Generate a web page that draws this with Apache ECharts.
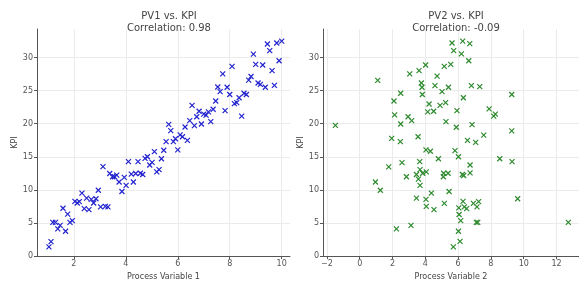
<!DOCTYPE html>
<html><head><meta charset="utf-8">
<script src="https://cdn.jsdelivr.net/npm/echarts@6/dist/echarts.min.js"></script>
<style>html,body{margin:0;padding:0;background:#fff}#c{width:579px;height:286px}</style>
</head><body><div id="c"></div>
<script>
const titles = ["PV1 vs. KPI\nCorrelation: 0.98", "PV2 vs. KPI\nCorrelation: -0.09"];
const xNames = ["Process Variable 1", "Process Variable 2"];
const yName = "KPI";

const pv1 = [1.04,1.12,1.19,1.29,1.38,1.47,1.58,1.68,1.76,1.85,1.94,2.04,2.13,2.21,2.31,2.40,2.49,2.58,2.67,2.76,2.85,2.94,3.03,3.12,3.21,3.31,3.38,3.49,3.56,3.65,3.74,3.85,3.94,4.01,4.10,4.21,4.29,4.38,4.47,4.56,4.65,4.74,4.83,4.92,5.01,5.10,5.19,5.28,5.37,5.46,5.55,5.65,5.73,5.83,5.91,6.00,6.09,6.18,6.28,6.37,6.46,6.55,6.64,6.73,6.82,6.91,7.00,7.09,7.18,7.27,7.36,7.46,7.54,7.63,7.73,7.82,7.90,8.00,8.09,8.18,8.27,8.36,8.46,8.55,8.64,8.73,8.82,8.91,9.00,9.09,9.18,9.27,9.37,9.45,9.54,9.63,9.72,9.81,9.90,10.00];
const kpi1 = [1.39,2.18,5.10,5.10,4.11,4.65,7.23,3.76,6.34,5.10,5.35,8.27,8.02,8.22,9.50,7.18,8.76,7.03,8.56,8.02,8.66,9.95,7.43,13.51,7.52,7.43,12.48,11.98,11.98,12.23,11.19,9.75,11.88,10.69,14.26,12.38,11.19,12.48,14.26,12.52,12.33,14.75,15.00,13.76,14.16,15.79,12.72,13.07,14.70,15.99,17.28,19.90,18.96,17.28,17.72,16.04,18.32,18.02,19.50,17.48,20.45,22.77,19.70,21.04,21.88,19.95,21.44,21.29,21.78,20.30,22.18,23.42,25.54,24.85,27.52,21.98,25.50,24.41,28.66,23.02,23.17,23.91,21.14,24.60,24.41,26.58,27.13,30.50,28.96,26.14,25.94,28.86,25.50,32.03,31.04,28.02,25.79,32.18,29.50,32.48];

const pv2 = [-1.48,0.96,1.10,1.26,1.77,1.95,2.09,2.13,2.24,2.50,2.50,2.48,2.58,2.85,2.95,3.05,3.13,3.17,3.46,3.46,3.56,3.58,3.62,3.66,3.68,3.68,3.76,3.80,3.82,3.84,4.02,4.04,4.06,4.04,4.06,4.15,4.23,4.31,4.37,4.51,4.53,4.59,4.72,4.80,4.90,5.02,5.10,5.12,5.16,5.16,5.24,5.26,5.39,5.41,5.45,5.55,5.63,5.71,5.73,5.81,5.89,5.93,6.02,6.02,6.04,6.06,6.12,6.16,6.20,6.26,6.30,6.32,6.34,6.38,6.28,6.52,6.57,6.65,6.71,6.73,6.73,6.81,6.85,6.93,7.07,7.11,7.15,7.20,7.25,7.32,7.56,7.89,8.17,8.27,8.54,9.27,9.27,9.29,9.63,12.72];
const kpi2 = [19.75,11.19,26.53,9.95,13.47,17.77,23.42,21.34,4.11,24.60,19.95,17.28,14.11,11.98,21.04,27.52,4.65,20.45,12.33,8.76,18.02,11.63,28.02,14.26,13.07,10.69,26.14,25.50,24.41,12.52,28.86,16.04,12.72,8.56,7.52,21.78,22.97,15.84,9.50,21.88,7.03,25.74,27.18,14.70,22.77,24.85,11.98,12.52,7.97,28.66,23.17,20.30,12.52,25.50,9.75,28.96,32.18,1.39,31.04,15.94,19.46,21.98,15.00,3.76,7.28,6.29,2.23,5.35,30.54,12.33,8.27,23.91,12.18,7.43,32.48,7.18,17.48,29.50,32.08,13.76,12.57,25.74,19.85,7.97,17.18,5.10,7.43,5.10,8.22,25.59,18.27,22.23,21.14,21.44,14.70,24.41,18.91,14.26,8.66,5.10];

const FONT = "DejaVu Sans";
const xMarker = 'path://M0,0L10,10M10,0L0,10';

function xAxisCfg(gi, min, max, split) {
  return {
    gridIndex: gi, type: 'value', min: min, max: max, splitNumber: split,
    name: xNames[gi], nameLocation: 'middle', nameGap: 12,
    nameTextStyle: {fontFamily: FONT, fontSize: 8, color: '#444'},
    axisLine: {show: true, onZero: false, lineStyle: {color: '#555', width: 1}},
    axisTick: {show: true, length: 3, lineStyle: {color: '#555'}},
    axisLabel: {fontFamily: FONT, fontSize: 8, color: '#555', margin: 4, showMinLabel: false, showMaxLabel: false,
      formatter: v => (v < 0 ? '\u2212' + Math.abs(v) : String(v))},
    splitLine: {show: true, showMinLine: false, showMaxLine: false, lineStyle: {color: '#ebebeb', width: 1}}
  };
}
function yAxisCfg(gi) {
  return {
    gridIndex: gi, type: 'value', min: 0, max: 34.3, splitNumber: 7,
    name: yName, nameLocation: 'middle', nameGap: 18,
    nameTextStyle: {fontFamily: FONT, fontSize: 8, color: '#444'},
    axisLine: {show: true, onZero: false, lineStyle: {color: '#555', width: 1}},
    axisTick: {show: true, length: 3, lineStyle: {color: '#555'}},
    axisLabel: {fontFamily: FONT, fontSize: 8, color: '#555', margin: 4, showMaxLabel: false},
    splitLine: {show: true, showMinLine: false, showMaxLine: false, lineStyle: {color: '#ebebeb', width: 1}}
  };
}
function scatter(gi, xs, ys, color) {
  return {
    type: 'scatter', xAxisIndex: gi, yAxisIndex: gi,
    data: xs.map((x, i) => [x, ys[i]]),
    symbol: xMarker, symbolSize: 5,
    itemStyle: {color: 'rgba(0,0,0,0)', borderColor: color, borderWidth: 1.2, opacity: 1},
    silent: true
  };
}

const chart = echarts.init(document.getElementById('c'), null, {renderer: 'canvas'});
chart.setOption({
  animation: false,
  backgroundColor: '#fff',
  title: [
    {text: titles[0], left: 164, top: 6, textAlign: 'center',
     textStyle: {fontFamily: FONT, fontSize: 10, fontWeight: 'normal', color: '#444', lineHeight: 11.5}},
    {text: titles[1], left: 451, top: 6, textAlign: 'center',
     textStyle: {fontFamily: FONT, fontSize: 10, fontWeight: 'normal', color: '#444', lineHeight: 11.5}}
  ],
  grid: [
    {left: 37, top: 29, width: 253, height: 231},
    {left: 323, top: 29, width: 256, height: 231}
  ],
  xAxis: [xAxisCfg(0, 0.58, 10.32, 5), xAxisCfg(1, -2.236, 13.37, 8)],
  yAxis: [yAxisCfg(0), yAxisCfg(1)],
  series: [scatter(0, pv1, kpi1, '#2323cf'), scatter(1, pv2, kpi2, '#2e8a2e')]
});
</script></body></html>
